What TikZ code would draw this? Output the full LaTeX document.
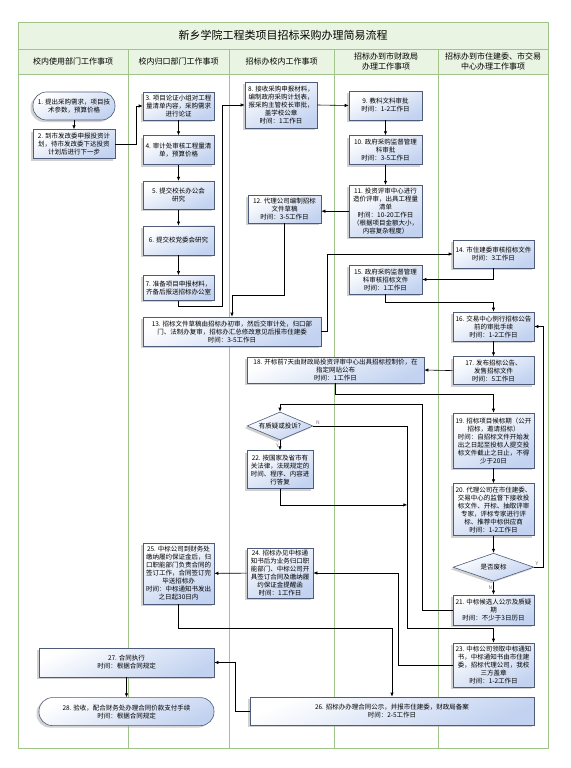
\documentclass[tikz,border=0pt]{standalone}
\usepackage{fontspec}
\setmainfont{Noto Sans CJK SC}
\usepackage{tikz}
\usetikzlibrary{arrows.meta, positioning, shapes.geometric, shadows}

\definecolor{laneline}{RGB}{160,196,138}
\definecolor{lanefill}{RGB}{234,244,226}
\definecolor{boxline}{RGB}{78,92,122}
\definecolor{boxfill}{RGB}{194,210,240}

\begin{document}
\begin{tikzpicture}[
    x=1pt, y=-1pt,
    box/.style={draw=boxline, line width=0.6pt, top color=white, bottom color=boxfill,
                shading angle=25, align=center, inner sep=1pt,
                font=\fontsize{6.5}{8}\selectfont,
                drop shadow={shadow xshift=-2.5pt, shadow yshift=-2pt, fill=black!40, opacity=0.45}},
    endbox/.style={box, rounded corners=13.5pt},
    decide/.style={box, diamond, aspect=2.5, inner sep=0pt},
    lane/.style={draw=laneline, line width=0.8pt},
    head/.style={align=center, font=\fontsize{8}{10}\selectfont},
    lbl/.style={font=\fontsize{5}{5}\selectfont, text=black!55, inner sep=1pt},
    arrow/.style={-{Latex[length=4pt, width=3.4pt]}, line width=0.6pt}
]
    \useasboundingbox (0,0) rectangle (570,768);

    % swimlanes
    \fill[lanefill] (18,22) rectangle (548,74);
    \draw[lane] (18,22) rectangle (548,748);
    \draw[lane] (18,49) -- (548,49);
    \draw[lane] (18,74) -- (548,74);
    \draw[lane] (128,49) -- (128,748);
    \draw[lane] (229,49) -- (229,748);
    \draw[lane] (334,49) -- (334,748);
    \draw[lane] (438,49) -- (438,748);

    \node[font=\fontsize{11}{13}\selectfont] (title) at (283,35.5) {新乡学院工程类项目招标采购办理简易流程};
    \node[head] (hdept) at (73,61.5) {校内使用部门工作事项};
    \node[head] (hown) at (178.5,61.5) {校内归口部门工作事项};
    \node[head] (hbid) at (281.5,61.5) {招标办校内工作事项};
    \node[head] (hfin) at (386,61.5) {招标办到市财政局\\办理工作事项};
    \node[head] (hcity) at (493,61.5) {招标办到市住建委、市交易\\中心办理工作事项};

    % column 1 and 2
    \node[endbox, minimum width=82pt, minimum height=28pt] (need) at (74,106) {1. 提出采购需求，项目技\\术参数，预算价格};
    \node[box, minimum width=82pt, minimum height=29pt, below=9pt of need] (plan) {2. 到市发改委申报投资计\\划，待市发改委下达投资\\计划后进行下一步};
    \node[box, minimum width=71pt, minimum height=28pt] (verify) at (178.5,106) {3. 项目论证小组对工程\\量清单内容，采购需求\\进行论证};
    \node[box, minimum width=71pt, minimum height=29pt, below=15pt of verify] (audit) {4. 审计处审核工程量清\\单，预算价格};
    \node[box, minimum width=71pt, minimum height=28pt, below=16pt of audit] (office) {5. 提交校长办公会\\研究};
    \node[box, minimum width=71pt, minimum height=29pt, below=16pt of office] (party) {6. 提交校党委会研究};
    \node[box, minimum width=71pt, minimum height=25pt, below=20pt of party] (submit) {7. 准备项目申报材料，\\齐备后报送招标办公室};

    % column 3
    \node[box, minimum width=72pt, minimum height=46pt] (receive) at (281,105) {8. 接收采购申报材料，\\编制政府采购计划表，\\报采购主管校长审批，\\盖学校公章\\时间：1工作日};
    \node[box, minimum width=73pt, minimum height=28pt] (draft) at (284.5,209) {12. 代理公司编制招标\\文件草稿\\时间：3-5工作日};
    \node[box, minimum width=178pt, minimum height=29pt] (check) at (232,331.5) {13. 招标文件草稿由招标办初审，然后交审计处，归口部\\门、法制办复审，招标办汇总修改意见后报市住建委\\时间：3-5工作日};
    \node[box, minimum width=177pt, minimum height=26pt] (ctrlprice) at (335.5,370) {18. 开标前7天由财政局投资评审中心出具招标控制价，在\\指定网站公布\\时间：1工作日};
    \node[decide, minimum width=66pt, minimum height=28pt] (doubt) at (280,426) {有质疑或投诉?};
    \node[box, minimum width=66pt, minimum height=38pt, below=10pt of doubt] (reply) {22. 按国家及省市有\\关法律，法规规定的\\时间、程序、内容进\\行答复};
    \node[box, minimum width=66pt, minimum height=50pt] (remind) at (280,573) {24. 招标办见中标通\\知书后为业务归口职\\能部门、中标公司开\\具签订合同及缴纳履\\约保证金提醒函\\时间：1工作日};
    \node[box, minimum width=71pt, minimum height=61pt] (contract) at (178.5,573.5) {25. 中标公司到财务处\\缴纳履约保证金后，归\\口职能部门负责合同的\\签订工作，合同签订完\\毕送招标办\\时间：中标通知书发出\\之日起30日内};

    % column 4
    \node[box, minimum width=73pt, minimum height=29pt] (edu) at (385.5,105.5) {9. 教科文科审批\\时间：1-2工作日};
    \node[box, minimum width=73pt, minimum height=29pt, below=15pt of edu] (supervise) {10. 政府采购监督管理\\科审批\\时间：3-5工作日};
    \node[box, minimum width=73pt, minimum height=52pt, below=20pt of supervise] (review) {11. 投资评审中心进行\\造价评审，出具工程量\\清单\\时间：10-20工作日\\（根据项目金额大小，\\内容复杂程度）};
    \node[box, minimum width=73pt, minimum height=29pt] (govcheck) at (385.5,279.5) {15. 政府采购监督管理\\科审核招标文件\\时间：1工作日};

    % column 5
    \node[box, minimum width=81pt, minimum height=28pt] (housing) at (493.5,254) {14. 市住建委审核招标文件\\时间：3工作日};
    \node[box, minimum width=81pt, minimum height=29pt] (approve) at (493.5,326.5) {16. 交易中心例行招标公告\\前的审批手续\\时间：1-2工作日};
    \node[box, minimum width=81pt, minimum height=28pt, below=15pt of approve] (publish) {17. 发布招标公告、\\发售招标文件\\时间：5工作日};
    \node[box, minimum width=81pt, minimum height=55pt] (wait) at (493.5,440.5) {19. 招标项目候标期（公开\\招标，邀请招标）\\时间：自招标文件开始发\\出之日起至投标人提交投\\标文件截止之日止，不得\\少于20日};
    \node[box, minimum width=81pt, minimum height=52pt, below=15pt of wait] (evaluate) {20. 代理公司在市住建委、\\交易中心的监督下接收投\\标文件、开标、抽取评审\\专家，评标专家进行评\\标、推荐中标供应商\\时间：1-2工作日};
    \node[decide, minimum width=81pt, minimum height=28pt, below=17pt of evaluate] (invalid) {是否废标};
    \node[box, minimum width=81pt, minimum height=30pt, below=13pt of invalid] (announce) {21. 中标候选人公示及质疑\\期\\时间：不少于3日历日};
    \node[box, minimum width=81pt, minimum height=44pt] (notice) at (493.5,665) {23. 中标公司领取中标通知\\书，中标通知书由市住建\\委，招标代理公司，我校\\三方盖章\\时间：1-2工作日};

    % bottom
    \node[box, minimum width=284pt, minimum height=28pt] (record) at (392,711) {26. 招标办办理合同公示，并报市住建委，财政局备案\\时间：2-5工作日};
    \node[box, minimum width=175pt, minimum height=29pt] (execute) at (126.5,662.5) {27. 合同执行\\时间：根据合同规定};
    \node[endbox, minimum width=175pt, minimum height=28pt, below=20pt of execute] (accept) {28. 验收，配合财务处办理合同价款支付手续\\时间：根据合同规定};

    % connectors
    \draw[arrow] (need) -- (plan);
    \draw[arrow] (plan.east) -- ++(21,0) |- (verify.west);
    \draw[arrow] (verify) -- (audit);
    \draw[arrow] (audit) -- (office);
    \draw[arrow] (office) -- (party);
    \draw[arrow] (party) -- (submit);
    \draw[arrow] (submit.south) -- ++(0,6) -- ++(44,0) |- (receive.west);
    \draw[arrow] (receive.east) -- (edu.west);
    \draw[arrow] (edu) -- (supervise);
    \draw[arrow] (supervise) -- (review);
    \draw[arrow] (review.west) -- (review.west -| draft.east);
    \draw[arrow] (draft.south) -- ++(0,72) -| (check.north);
    \draw[arrow] (check.east) -- ++(6,0) |- (housing.west);
    \draw[arrow] (housing.south) |- (govcheck.east);
    \draw[arrow] (govcheck.south) -- ++(0,8) -| (approve.north);
    \draw[arrow] (approve) -- (publish);
    \draw[arrow] (publish.west) -- (ctrlprice.east);
    \draw[arrow] (ctrlprice.south) -- ++(0,11) -| (wait.north);
    \draw[arrow] (wait) -- (evaluate);
    \draw[arrow] (evaluate) -- (invalid);
    \draw[arrow] (invalid.east) -- node[lbl, above, pos=0.3] {Y} ++(9,0) |- (approve.east);
    \draw[arrow] (invalid) -- node[lbl, left] {N} (announce);
    \draw[arrow] (announce.west) -- ++(-30,0) |- ([yshift=7pt]doubt.north) -- (doubt.north);
    \draw[arrow] (doubt) -- node[lbl, left] {Y} (reply);
    \draw[arrow] (doubt.east) -- node[lbl, above, pos=0.05] {N} ++(94,0) coordinate (nturn) |- ([yshift=14pt]notice.north) -- (notice.north);
    \draw[arrow] (reply.south) -- ++(0,16) coordinate (rturn) -- (rturn -| nturn);
    \draw[arrow] (notice.west) -- ++(-54,0) |- (remind.east);
    \draw[arrow] (remind) -- (contract);
    \draw[arrow] (contract.south) -- ++(0,24) -| (record.north);
    \draw[arrow] (record.west) -- ++(-14,0) |- (execute.east);
    \draw[arrow] (execute) -- (accept);
\end{tikzpicture}
\end{document}
